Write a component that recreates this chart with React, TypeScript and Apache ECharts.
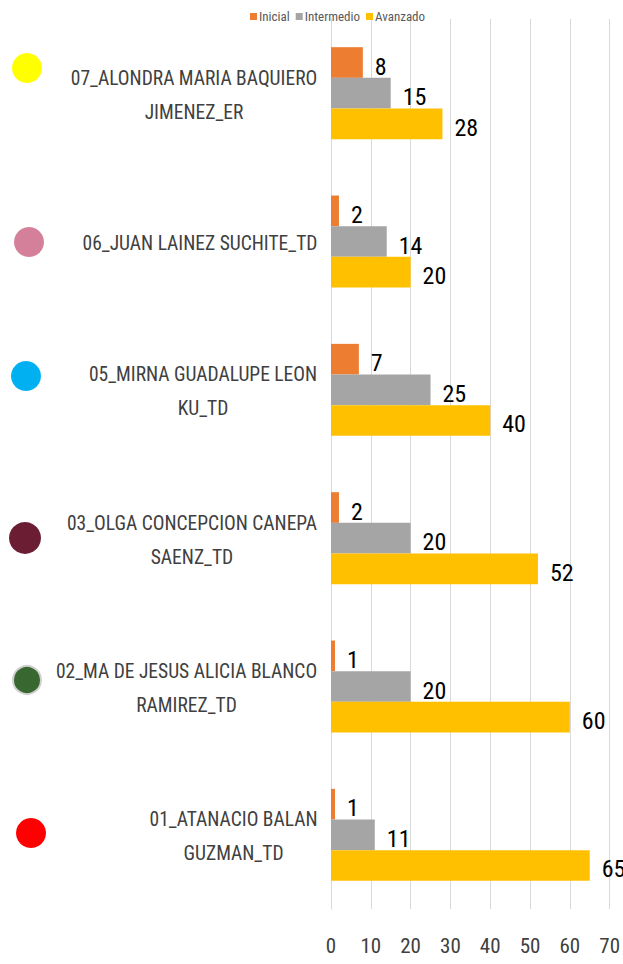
import React, { useEffect, useRef } from "react";
import * as echarts from "echarts";

const categories = [
  "07_ALONDRA MARIA BAQUIERO\nJIMENEZ_ER",
  "06_JUAN LAINEZ SUCHITE_TD",
  "05_MIRNA GUADALUPE LEON\nKU_TD",
  "03_OLGA CONCEPCION CANEPA\nSAENZ_TD",
  "02_MA DE JESUS ALICIA BLANCO\nRAMIREZ_TD",
  "01_ATANACIO BALAN\nGUZMAN_TD",
];
const inicial = [8, 2, 7, 2, 1, 1];
const intermedio = [15, 14, 25, 20, 20, 11];
const avanzado = [28, 20, 40, 52, 60, 65];
const seriesNames = ["Inicial", "Intermedio", "Avanzado"];
const seriesColors = ["#ED7D31", "#A5A5A5", "#FFC000"];
const xTicks = { min: 0, max: 70, interval: 10 };

const FONT = "'Roboto Condensed', 'Liberation Sans Narrow', 'Arial Narrow', sans-serif";
const Y_LABEL_SIZE = 19.5;

const markers = [
  { x: 27, y: 68, r: 15, fill: "#FFFF00" },
  { x: 29, y: 242, r: 15, fill: "#D5809A" },
  { x: 26, y: 376, r: 15, fill: "#00B0F0" },
  { x: 25, y: 538, r: 16, fill: "#6B1D34" },
  { x: 27, y: 680, r: 14, fill: "#38672F", stroke: "#D0D0D0" },
  { x: 31, y: 833, r: 15, fill: "#FF0000" },
];

function measure(text: string): number {
  const c = document.createElement("canvas").getContext("2d");
  if (!c) return text.length * Y_LABEL_SIZE * 0.45;
  c.font = `${Y_LABEL_SIZE}px ${FONT}`;
  return c.measureText(text).width;
}

export default function App() {
  const ref = useRef<HTMLDivElement>(null);
  useEffect(() => {
    if (!ref.current) return;
    const chart = echarts.init(ref.current, null, { renderer: "svg" });
    const data = [inicial, intermedio, avanzado];
    const rich: Record<string, any> = {};
    categories.forEach((cat, i) => {
      const w = Math.max(...cat.split("\n").map(measure));
      rich["c" + i] = {
        width: Math.ceil(w) + 1,
        align: "center",
        fontFamily: FONT,
        fontSize: Y_LABEL_SIZE,
        color: "#404040",
        lineHeight: 34,
      };
    });
    chart.setOption({
      animation: false,
      textStyle: { fontFamily: FONT },
      legend: {
        top: 10,
        left: 250,
        padding: 0,
        itemWidth: 7,
        itemHeight: 7,
        itemGap: 6,
        icon: "rect",
        data: seriesNames,
        textStyle: { fontFamily: FONT, fontSize: 13, color: "#595959", padding: [0, 0, 0, -3] },
      },
      grid: { left: 331, right: 13, top: 19, bottom: 55, containLabel: false },
      xAxis: {
        type: "value",
        min: xTicks.min,
        max: xTicks.max,
        interval: xTicks.interval,
        axisLine: { show: false },
        axisTick: { show: false },
        splitLine: { show: true, lineStyle: { color: "#D9D9D9", width: 1 } },
        axisLabel: { fontFamily: FONT, fontSize: 21, color: "#404040", margin: 26 },
      },
      yAxis: {
        type: "category",
        inverse: true,
        data: categories,
        axisLine: { show: true, lineStyle: { color: "#D9D9D9" } },
        axisTick: { show: false },
        axisLabel: {
          fontFamily: FONT,
          fontSize: Y_LABEL_SIZE,
          color: "#404040",
          align: "right",
          margin: 13,
          lineHeight: 34,
          padding: [4, 0, 0, 0],
          formatter: (value: string, index: number) =>
            value
              .split("\n")
              .map((line) => `{c${index}|${line}}`)
              .join("\n"),
          rich,
        },
      },
      series: seriesNames.map((name, i) => ({
        name,
        type: "bar",
        data: data[i],
        barGap: "0%",
        barCategoryGap: "38%",
        itemStyle: { color: seriesColors[i] },
        label: {
          show: true,
          position: "right",
          distance: 12,
          offset: [0, 4],
          fontFamily: FONT,
          fontSize: 24,
          color: "#000000",
        },
      })),
      graphic: markers.map((m) => ({
        type: "circle",
        shape: { cx: m.x, cy: m.y, r: m.r },
        style: { fill: m.fill, stroke: m.stroke || null, lineWidth: m.stroke ? 2 : 0 },
      })),
    });
    return () => chart.dispose();
  }, []);
  return <div ref={ref} style={{ width: 623, height: 964, position: "absolute", left: 0, top: 0 }} />;
}
